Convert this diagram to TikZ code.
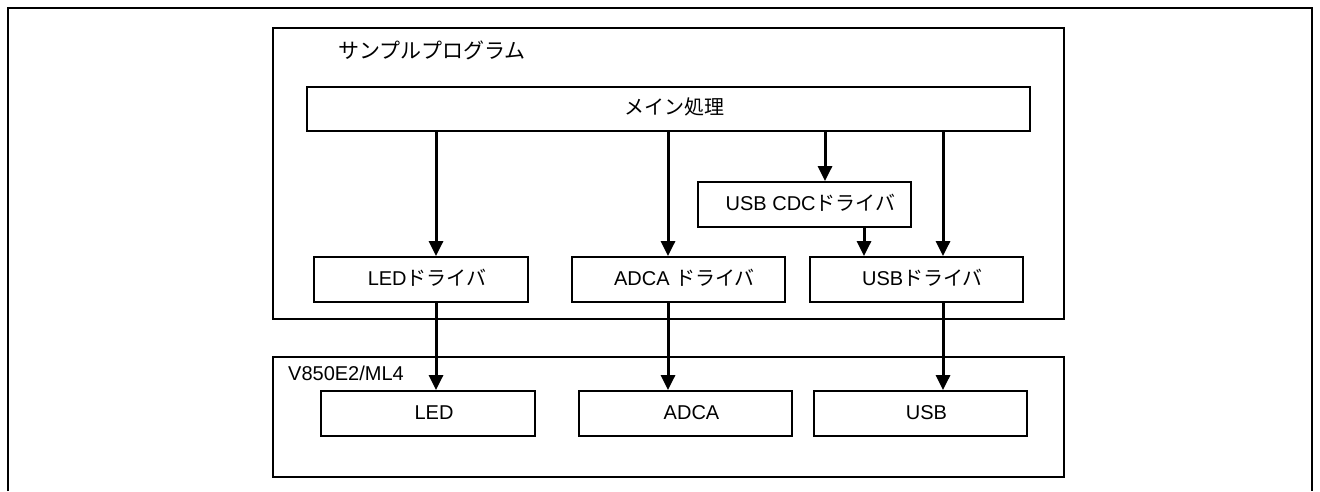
\documentclass[tikz,border=0pt]{standalone}
\usepackage{fontspec}
\setmainfont{Liberation Sans}
\newfontfamily\jpfont{Noto Sans CJK JP}
\usetikzlibrary{arrows.meta}
\tikzset{
line cap=rect,
box/.style={draw, line width=1.8pt, minimum width=214pt, minimum height=45pt, inner sep=0pt, text height=14pt, text depth=3pt, font=\fontsize{20}{24}\selectfont, execute at begin node={\hspace{12pt}}},
frame/.style={draw, line width=1.8pt},
arr/.style={line width=3pt, -{Triangle[width=14pt,length=15pt]}}
}
\newcommand{\jp}[1]{{\jpfont #1}}

\begin{document}
\begin{tikzpicture}[x=1pt,y=-1pt]

\useasboundingbox (0,0) rectangle (1320,491);
\draw[line width=2.2pt] (8,491) -- (8,8) -- (1312,8) -- (1312,491);



\draw[frame] (273,28) rectangle (1064,319);
\node[anchor=west, inner sep=0pt, font=\fontsize{21}{25}\selectfont] (title) at (338,50) {\jp{サンプルプログラム}};

\node[box, minimum width=723pt, minimum height=44pt] (main) at (668.5,109) {\jp{メイン処理}};
\node[box, minimum width=213pt] (cdc) at (804.5,204.5) {USB CDC\jp{ドライバ}};

\node[box] (leddrv) at (421,279.5) {LED\jp{ドライバ}};
\node[box, minimum width=213pt] (adcadrv) at (678.5,279.5) {ADCA \jp{ドライバ}};
\node[box, minimum width=213pt] (usbdrv) at (916.5,279.5) {USB\jp{ドライバ}};



\draw[frame] (273,357) rectangle (1064,477);
\node[anchor=base west, inner sep=0pt, font=\fontsize{20}{24}\selectfont] (chip) at (288,380) {V850E2/ML4};

\node[box] (led) at (428,413.5) {LED};
\node[box, minimum width=213pt] (adca) at (685.5,413.5) {ADCA};
\node[box, minimum width=213pt] (usb) at (920.5,413.5) {USB};



\coordinate (ledx) at (436,0);
\coordinate (adcax) at (668,0);
\coordinate (cdcx) at (825,0);
\coordinate (cdcout) at (864,0);
\coordinate (usbx) at (943,0);

\draw[arr] (ledx |- main.south) -- (ledx |- leddrv.north);
\draw[arr] (adcax |- main.south) -- (adcax |- adcadrv.north);
\draw[arr] (cdcx |- main.south) -- (cdcx |- cdc.north);
\draw[arr] (usbx |- main.south) -- (usbx |- usbdrv.north);
\draw[arr] (cdcout |- cdc.south) -- (cdcout |- usbdrv.north);

\draw[arr] (ledx |- leddrv.south) -- (ledx |- led.north);
\draw[arr] (adcax |- adcadrv.south) -- (adcax |- adca.north);
\draw[arr] (usbx |- usbdrv.south) -- (usbx |- usb.north);

\end{tikzpicture}
\end{document}
